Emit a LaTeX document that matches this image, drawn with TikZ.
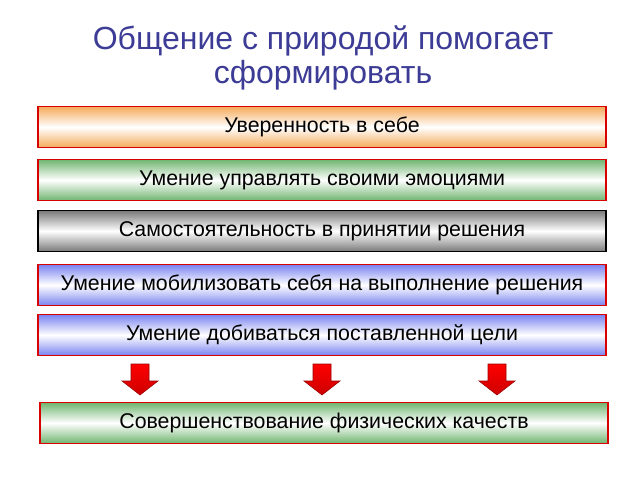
\documentclass[tikz,border=0pt]{standalone}
\usepackage{fontspec}
\setmainfont{Liberation Sans}
\usetikzlibrary{positioning}
\begin{document}
\begin{tikzpicture}
			[x=0.75pt,y=-0.75pt,line cap=round,
			%Styles
			bar/.style={draw=red!85!black,line width=0.8pt,minimum width=426pt,minimum height=31pt,
				inner sep=0pt,font=\fontsize{16}{19}\selectfont,top color=#1,bottom color=#1,middle color=white},
			bar black/.style={bar=#1,draw=black},
			down arrow/.style={draw=red!60!black,line width=0.4pt,top color=red,bottom color=red!80!black}
			]
			
			%Colors
			\definecolor{titlecolor}{RGB}{60,60,150}
			\definecolor{orangebar}{RGB}{245,170,90}
			\definecolor{greenbar}{RGB}{110,180,110}
			\definecolor{graybar}{RGB}{120,120,120}
			\definecolor{bluebar}{RGB}{120,130,240}
			
			\useasboundingbox (0,0) rectangle (640,480);
			
			%The graphic
			\node[text=titlecolor,align=center,font=\fontsize{24}{26}\selectfont] (title) at (323,58)
				{Общение с природой помогает\\сформировать};
			
			\node[bar=orangebar] (b1) at (322,127) {Уверенность в себе};
			\node[bar=greenbar] (b2) at (322,180) {Умение управлять своими эмоциями};
			\node[bar black=graybar] (b3) at (322,231) {Самостоятельность в принятии решения};
			\node[bar=bluebar] (b4) at (322,285) {Умение мобилизовать себя на выполнение решения};
			\node[bar=bluebar] (b5) at (322,335) {Умение добиваться поставленной цели};
			\node[bar=greenbar] (b6) at (324,423) {Совершенствование физических качеств};
			
			\foreach \ax in {140,322,497}
				\draw[down arrow] (\ax-9,364) -- (\ax+9,364) -- (\ax+9,381) -- (\ax+18,381)
					-- (\ax,395) -- (\ax-18,381) -- (\ax-9,381) -- cycle;
		\end{tikzpicture}
\end{document}
